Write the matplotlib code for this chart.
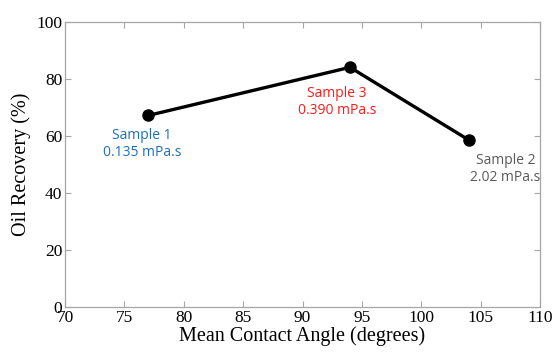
import matplotlib
matplotlib.use("Agg")
import matplotlib.pyplot as plt

# data
angle = [77, 94, 104]
recovery = [67.2, 84.1, 58.6]
labels = ["Sample 1\n0.135 mPa.s", "Sample 3\n0.390 mPa.s", "Sample 2\n2.02 mPa.s"]
label_x = [76.5, 92.9, 107.1]
label_y = [57.3, 72.0, 48.5]
label_colors = ["#1f6fb8", "#ff1a1a", "#5a5a5a"]

fig = plt.figure(figsize=(5.54, 3.59), dpi=100)
ax = fig.add_axes([65 / 554, 1 - 307 / 359, 475 / 554, 285 / 359])

ax.plot(angle, recovery, color="black", linewidth=2.4, marker="o", markersize=8)

for x, y, t, c in zip(label_x, label_y, labels, label_colors):
    ax.text(x, y, t, color=c, ha="center", va="center", fontsize=10,
            family="Open Sans", linespacing=1.2)

ax.set_xlim(70, 110)
ax.set_ylim(0, 100)
ax.set_xticks(range(70, 111, 5))
ax.set_yticks(range(0, 101, 20))

for s in ax.spines.values():
    s.set_color("#a6a6a6")
    s.set_linewidth(0.9)
ax.tick_params(direction="in", top=True, right=True, color="#a6a6a6",
               length=4, labelsize=12.5, labelcolor="black", pad=2)
for lab in ax.get_xticklabels() + ax.get_yticklabels():
    lab.set_family("Liberation Serif")

ax.set_xlabel("Mean Contact Angle (degrees)", family="Liberation Serif", fontsize=14.5, labelpad=0)
ax.set_ylabel("Oil Recovery (%)", family="Liberation Serif", fontsize=14.5, labelpad=4)

fig.savefig("out.png", dpi=100)
